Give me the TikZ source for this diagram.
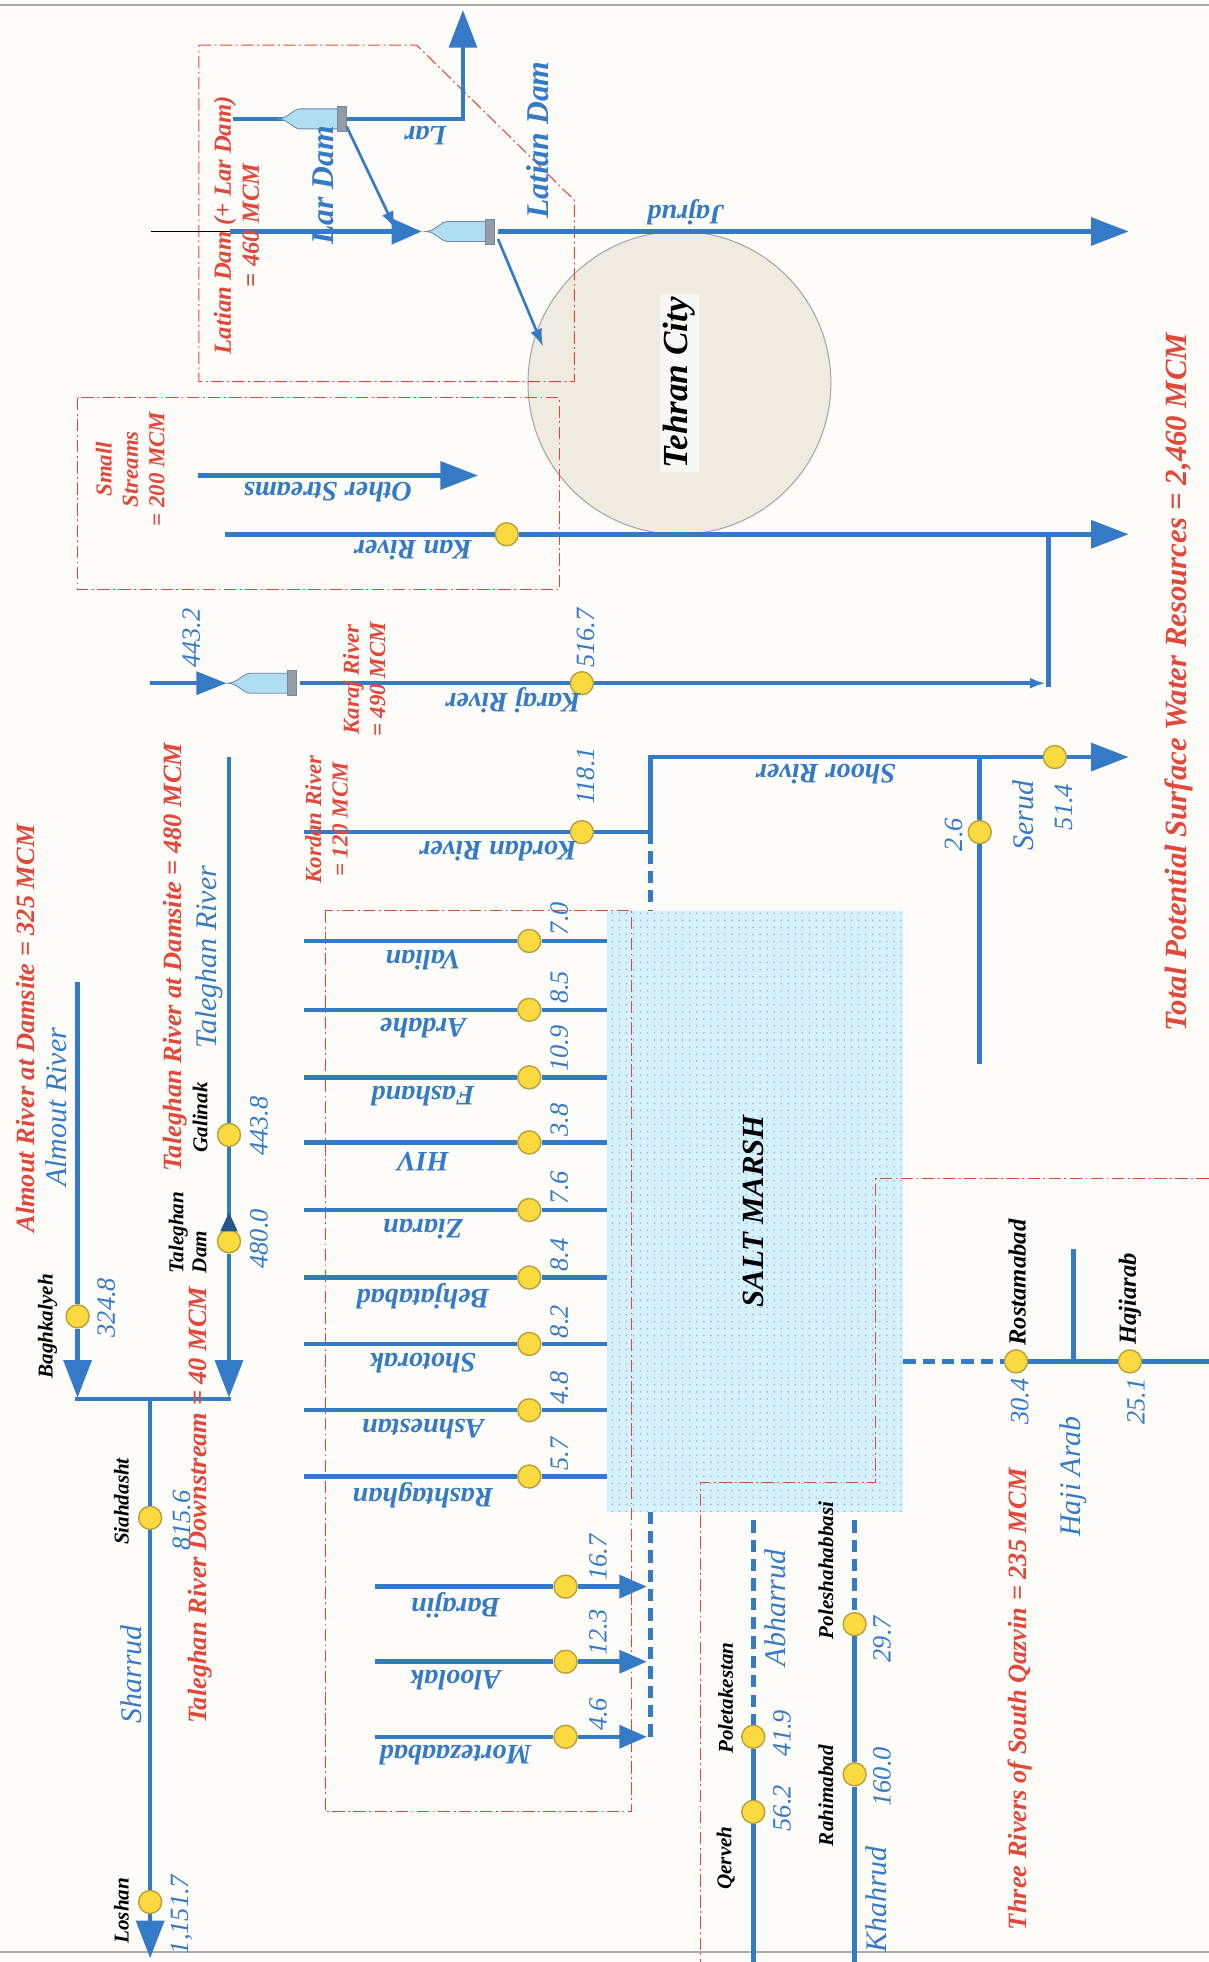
\documentclass[tikz,border=0pt]{standalone}
\usepackage{fontspec}
\setmainfont{Liberation Serif}
\usepackage{tikz}
\usetikzlibrary{arrows.meta, shapes.geometric, patterns}
\definecolor{paper}{RGB}{253,252,249}
\definecolor{riverblue}{RGB}{52,122,198}
\definecolor{notered}{RGB}{226,72,58}
\definecolor{stationyellow}{RGB}{250,218,62}
\definecolor{stationedge}{RGB}{185,160,60}
\definecolor{damblue}{RGB}{175,222,242}
\definecolor{damedge}{RGB}{110,140,170}
\definecolor{capgray}{RGB}{150,155,165}
\definecolor{marshblue}{RGB}{212,241,252}
\definecolor{cityfill}{RGB}{240,235,225}
\definecolor{framegray}{RGB}{170,170,170}
\pgfdeclarepatternformonly{marshdots}{\pgfqpoint{-1pt}{-1pt}}{\pgfqpoint{1pt}{1pt}}{\pgfqpoint{4pt}{4pt}}{%
    \pgfpathcircle{\pgfqpoint{0pt}{0pt}}{0.55pt}\pgfusepath{fill}}
\tikzset{
    river/.style={riverblue, line width=2.6pt},
    bigarrow/.style={river, -{Triangle[length=0.75cm, width=0.55cm]}},
    midarrow/.style={river, -{Triangle[length=0.55cm, width=0.45cm]}},
    thinarrow/.style={riverblue, line width=1.5pt, -{Latex[length=10pt, width=7pt]}},
    dashriver/.style={river, dash pattern=on 7pt off 4pt},
    zone/.style={notered, line width=0.6pt, dash pattern=on 7pt off 2pt on 1pt off 2pt},
    station/.style={circle, fill=stationyellow, draw=stationedge, line width=0.8pt, minimum size=0.46cm, inner sep=0pt},
    rivername/.style={riverblue, rotate=180, inner sep=1pt, font=\fontsize{16}{18}\selectfont\bfseries\itshape},
    rivertag/.style={riverblue, rotate=90, inner sep=1pt, font=\fontsize{17}{19}\selectfont\itshape},
    damtag/.style={riverblue, rotate=90, inner sep=1pt, font=\fontsize{18}{20}\selectfont\bfseries\itshape},
    flowval/.style={riverblue, rotate=90, inner sep=1pt, font=\fontsize{15}{17}\selectfont\itshape},
    sitename/.style={black, rotate=90, inner sep=1pt, align=left, font=\fontsize{12}{13}\selectfont\bfseries\itshape},
    zonenote/.style={notered, rotate=90, inner sep=1pt, align=center, font=\fontsize{15}{17}\selectfont\bfseries\itshape},
    smallnote/.style={zonenote, font=\fontsize{13}{15}\selectfont\bfseries\itshape},
    city/.style={ellipse, fill=cityfill, draw=gray!70, line width=0.6pt, minimum width=6.05cm, minimum height=6.05cm}
}
% dam body with gate at the right end
\newcommand{\damat}[1]{%
    \begin{scope}[shift={#1}]
        \filldraw[fill=damblue, draw=damedge, line width=0.5pt] (0,0) .. controls (8,0) and (12,-8) .. (18,-8) -- (48,-8) -- (48,8) -- (18,8) .. controls (12,8) and (8,0) .. (0,0) -- cycle;
        \filldraw[fill=capgray, draw=damedge, line width=0.5pt] (48,-10) rectangle (55,10);
    \end{scope}}

\begin{document}
\begin{tikzpicture}[x=0.025cm, y=-0.025cm]
    % Sheet
    \fill[paper] (0,0) rectangle (966,1568);
    \useasboundingbox (0,0) rectangle (966,1568);
    \draw[framegray, line width=1.2pt] (0,4) -- (966,4);
    \draw[framegray, line width=1.2pt] (0,1560) -- (966,1560);

    % Salt marsh and Tehran
    \fill[marshblue] (485,728) rectangle (722,1208);
    \fill[pattern=marshdots, pattern color=riverblue!50] (485,728) rectangle (722,1208);
    \node[city] (tehran) at (543,306) {};

    % Zones
    \draw[zone] (159,36) -- (333,36) -- (459,160) -- (459,305) -- (159,305) -- cycle;
    \draw[zone] (62,318) rectangle (447,471);
    \draw[zone] (260,728) rectangle (505,1448);
    \draw[zone] (966,942) -- (700,942) -- (700,1185) -- (560,1185) -- (560,1568);

    % Stations
    \node[station] (stKan) at (405,427) {};
    \node[station] (stKaraj) at (465,546) {};
    \node[station] (stKordan) at (465,665) {};
    \node[station] (stShoor) at (843,605) {};
    \node[station] (stSerud) at (783,665) {};
    \node[station] (stBagh) at (62,1052) {};
    \node[station] (stGalinak) at (183,907) {};
    \node[station] (stTalDam) at (183,992) {};
    \node[station] (stSiah) at (120,1213) {};
    \node[station] (stLoshan) at (120,1520) {};
    \node[station] (stPoletak) at (602,1388) {};
    \node[station] (stQerveh) at (602,1448) {};
    \node[station] (stPoleshah) at (683,1298) {};
    \node[station] (stRahim) at (683,1418) {};
    \node[station] (stRostam) at (812,1088) {};
    \node[station] (stHaji) at (903,1088) {};

    % Lar and Jajrud
    \coordinate (larStart) at (186,95);
    \coordinate (larBend) at (370,95);
    \coordinate (larEnd) at (370,8);
    \draw[bigarrow] (larStart) -- (larBend) -- (larEnd);
    \damat{(222,95)}
    \coordinate (larOut) at (277,101);
    \coordinate (larIn) at (316,183);
    \draw[thinarrow] (larOut) -- (larIn);
    \coordinate (jajThin) at (121,185);
    \coordinate (jajStart) at (184,185);
    \coordinate (latianTip) at (337,185);
    \coordinate (latianOut) at (398,185);
    \coordinate (jajEnd) at (902,185);
    \draw[black, line width=0.5pt] (jajThin) -- (jajStart);
    \draw[river, -{Triangle[length=0.6cm, width=0.5cm]}] (jajStart) -- (latianTip);
    \draw[bigarrow] (latianOut) -- (jajEnd);
    \damat{(340,185)}
    \coordinate (latianDiv) at (398,191);
    \coordinate (tehranIn) at (434,277);
    \draw[thinarrow] (latianDiv) -- (tehranIn);

    % Small streams
    \coordinate (otherStart) at (158,380);
    \coordinate (otherEnd) at (382,380);
    \draw[bigarrow] (otherStart) -- (otherEnd);
    \coordinate (kanStart) at (180,427);
    \coordinate (kanJ) at (838,427);
    \coordinate (kanEnd) at (902,427);
    \draw[river] (kanStart) -- (stKan);
    \draw[bigarrow] (stKan) -- (kanEnd);

    % Karaj
    \coordinate (karStart) at (120,546);
    \coordinate (karDamTip) at (181,546);
    \coordinate (karDamOut) at (240,546);
    \coordinate (karArrow) at (836,546);
    \coordinate (karJ) at (838,549);
    \draw[river, -{Triangle[length=0.6cm, width=0.45cm]}] (karStart) -- (karDamTip);
    \draw[river] (karDamOut) -- (stKaraj);
    \draw[river, -{Latex[length=9pt, width=6pt]}] (stKaraj) -- (karArrow);
    \draw[river] (karJ) -- (kanJ);
    \damat{(182,546)}

    % Kordan, Shoor and Serud
    \coordinate (korStart) at (243,665);
    \coordinate (korJ) at (520,665);
    \coordinate (shoorStart) at (520,605);
    \coordinate (serudFork) at (783,605);
    \coordinate (shoorEnd) at (902,605);
    \coordinate (serudEnd) at (783,850);
    \coordinate (marshTop) at (520,728);
    \draw[river] (korStart) -- (stKordan);
    \draw[river] (stKordan) -- (korJ) -- (shoorStart) -- (stShoor);
    \draw[bigarrow] (stShoor) -- (shoorEnd);
    \draw[river] (serudFork) -- (stSerud) -- (serudEnd);
    \draw[dashriver] (korJ) -- (marshTop);

    % North Qazvin small streams
    \foreach \n/\y/\v in {Valian/752/7.0, Ardahe/807/8.5, Fashand/861/10.9, HIV/913/3.8, Ziaran/967/7.6, Behjatabad/1021/8.4, Shotorak/1074/8.2, Ashnestan/1127/4.8, Rashtaghan/1180/5.7}{
        \coordinate (s\n) at (243,\y);
        \coordinate (e\n) at (485,\y);
        \node[station] (st\n) at (423,\y) {};
        \draw[river] (s\n) -- (st\n) -- (e\n);
        \node[rivername] (l\n) at (338,\y+15) {\n};
        \node[flowval, anchor=west] (v\n) at (447,\y-3) {\v};
    }
    \foreach \n/\y/\v in {Barajin/1268/16.7, Aloolak/1328/12.3, Mortezaabad/1388/4.6}{
        \coordinate (s\n) at (300,\y);
        \coordinate (e\n) at (517,\y);
        \node[station] (st\n) at (452,\y) {};
        \draw[river] (s\n) -- (st\n);
        \draw[midarrow] (st\n) -- (e\n);
        \node[rivername] (l\n) at (364,\y+15) {\n};
        \node[flowval, anchor=west] (v\n) at (478,\y-3) {\v};
    }
    \coordinate (marshBot) at (520,1208);
    \coordinate (qazDashEnd) at (520,1392);
    \draw[dashriver] (marshBot) -- (qazDashEnd);

    % Almout, Taleghan and Sharrud
    \coordinate (almoutStart) at (62,785);
    \coordinate (almoutEnd) at (62,1117);
    \draw[river] (almoutStart) -- (stBagh);
    \draw[bigarrow] (stBagh) -- (almoutEnd);
    \coordinate (talStart) at (183,605);
    \coordinate (talEnd) at (183,1117);
    \draw[river] (talStart) -- (stGalinak) -- (stTalDam);
    \draw[bigarrow] (stTalDam) -- (talEnd);
    \fill[riverblue!70!black] (176,984) -- (190,984) -- (183,969) -- cycle;
    \coordinate (junL) at (60,1118);
    \coordinate (junR) at (185,1118);
    \coordinate (sharStart) at (120,1118);
    \coordinate (sharEnd) at (120,1565);
    \draw[river] (junL) -- (junR);
    \draw[river] (sharStart) -- (stSiah) -- (stLoshan);
    \draw[bigarrow] (stLoshan) -- (sharEnd);

    % South Qazvin
    \coordinate (abhTop) at (602,1215);
    \coordinate (abhEnd) at (602,1568);
    \draw[dashriver] (abhTop) -- (stPoletak);
    \draw[river] (stPoletak) -- (stQerveh) -- (abhEnd);
    \coordinate (khaTop) at (683,1215);
    \coordinate (khaEnd) at (683,1568);
    \draw[dashriver] (khaTop) -- (stPoleshah);
    \draw[river] (stPoleshah) -- (stRahim) -- (khaEnd);
    \coordinate (hajiStart) at (722,1088);
    \coordinate (hajiFork) at (858,1088);
    \coordinate (hajiTrib) at (858,998);
    \coordinate (hajiEnd) at (966,1088);
    \draw[dashriver] (hajiStart) -- (stRostam);
    \draw[river] (stRostam) -- (stHaji) -- (hajiEnd);
    \draw[river] (hajiFork) -- (hajiTrib);

    % Labels, top
    \node[rivername] (lLar) at (340,108) {Lar};
    \node[damtag] (lLarDam) at (258,148) {Lar Dam};
    \node[damtag] (lLatianDam) at (430,112) {Latian Dam};
    \node[smallnote, font=\fontsize{14}{16}\selectfont\bfseries\itshape] (nLatian) at (189,180) {Latian Dam (+ Lar Dam)\\= 460 MCM};
    \node[rivername] (lJajrud) at (548,170) {Jajrud};
    \node[rotate=90, fill=white!60!cityfill, inner sep=2pt, font=\fontsize{20}{22}\selectfont\bfseries\itshape] (lTehran) at (tehran) {Tehran City};
    \node[rivername] (lOther) at (262,393) {Other Streams};
    \node[rivername] (lKan) at (330,440) {Kan River};
    \node[smallnote] (nSmall) at (104,375) {Small\\Streams\\= 200 MCM};

    % Labels, Karaj and Kordan
    \node[flowval] (v4432) at (153,510) {443.2};
    \node[flowval] (v5167) at (468,510) {516.7};
    \node[rivername] (lKaraj) at (410,560) {Karaj River};
    \node[smallnote] (nKaraj) at (291,543) {Karaj River\\= 490 MCM};
    \node[flowval] (v1181) at (468,620) {118.1};
    \node[rivername] (lKordan) at (398,680) {Kordan River};
    \node[smallnote] (nKordan) at (261,655) {Kordan River\\= 120 MCM};
    \node[rivername] (lShoor) at (660,619) {Shoor River};
    \node[flowval] (v514) at (850,645) {51.4};
    \node[rivertag] (lSerud) at (818,652) {Serud};
    \node[flowval] (v26) at (762,667) {2.6};
    \node[rotate=90, font=\fontsize{17.5}{19}\selectfont\bfseries\itshape] (lMarsh) at (602,968) {SALT MARSH};

    % Labels, left
    \node[zonenote] (nAlmout) at (20,822) {Almout River at Damsite = 325 MCM};
    \node[rivertag] (lAlmout) at (45,885) {Almout River};
    \node[sitename] (sBagh) at (38,1060) {Baghkalyeh};
    \node[flowval] (v3248) at (85,1045) {324.8};
    \node[zonenote] (nTaleghan) at (140,765) {Taleghan River at Damsite = 480 MCM};
    \node[rivertag] (lTaleghan) at (167,765) {Taleghan River};
    \node[sitename] (sGalinak) at (160,893) {Galinak};
    \node[sitename] (sTalDam) at (150,985) {Taleghan\\Dam};
    \node[flowval] (v4438) at (207,900) {443.8};
    \node[flowval] (v4800) at (207,990) {480.0};
    \node[zonenote] (nTalDown) at (160,1203) {Taleghan River Downstream = 40 MCM};
    \node[sitename] (sSiah) at (97,1200) {Siahdasht};
    \node[flowval] (v8156) at (145,1215) {815.6};
    \node[rivertag] (lSharrud) at (105,1338) {Sharrud};
    \node[sitename] (sLoshan) at (97,1527) {Loshan};
    \node[flowval] (v11517) at (145,1530) {1,151.7};

    % Labels, south
    \node[rivertag] (lAbhar) at (620,1285) {Abharrud};
    \node[flowval] (v419) at (625,1385) {41.9};
    \node[flowval] (v562) at (625,1445) {56.2};
    \node[sitename] (sPoletak) at (580,1357) {Poletakestan};
    \node[sitename] (sQerveh) at (580,1485) {Qerveh};
    \node[flowval] (v297) at (705,1310) {29.7};
    \node[flowval] (v1600) at (705,1420) {160.0};
    \node[sitename] (sPoleshah) at (660,1255) {Poleshahabbasi};
    \node[sitename] (sRahim) at (660,1435) {Rahimabad};
    \node[rivertag] (lKhah) at (700,1518) {Khahrud};
    \node[zonenote] (nSouth) at (815,1358) {Three Rivers of South Qazvin = 235 MCM};
    \node[sitename, font=\fontsize{14}{15}\selectfont\bfseries\itshape] (sRostam) at (813,1025) {Rostamabad};
    \node[sitename, font=\fontsize{14}{15}\selectfont\bfseries\itshape] (sHajiarab) at (903,1038) {Hajiarab};
    \node[flowval] (v304) at (815,1120) {30.4};
    \node[flowval] (v251) at (908,1120) {25.1};
    \node[rivertag] (lHaji) at (858,1180) {Haji Arab};
    \node[zonenote, font=\fontsize{17.5}{19}\selectfont\bfseries\itshape] (nTotal) at (942,545) {Total Potential Surface Water Resources = 2,460 MCM};
\end{tikzpicture}
\end{document}
